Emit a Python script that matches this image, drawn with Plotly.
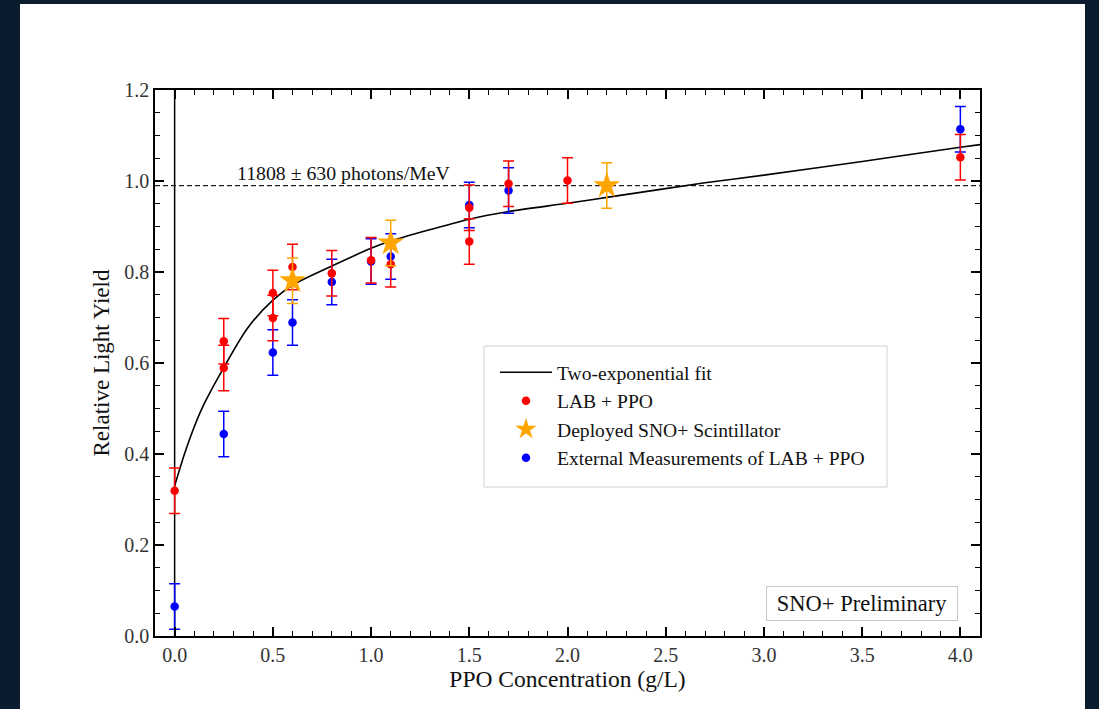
import plotly.graph_objects as go

# ---------------- data ----------------
lab_x = [0.0, 0.25, 0.25, 0.5, 0.5, 0.6, 0.8, 1.0, 1.1, 1.5, 1.5, 1.7, 2.0, 4.0]
lab_y = [0.319, 0.648, 0.589, 0.754, 0.699, 0.811, 0.797, 0.826, 0.817, 0.941, 0.867, 0.994, 1.001, 1.052]
lab_err = [0.05] * len(lab_x)

ext_x = [0.0, 0.25, 0.5, 0.6, 0.8, 1.0, 1.1, 1.5, 1.7, 4.0]
ext_y = [0.065, 0.444, 0.623, 0.689, 0.778, 0.823, 0.834, 0.947, 0.979, 1.114]
ext_err = [0.05] * len(ext_x)

dep_x = [0.6, 1.1, 2.2]
dep_y = [0.781, 0.864, 0.990]
dep_err = [0.05] * len(dep_x)

fit_x = [0.0, 0.05, 0.1, 0.15, 0.25, 0.37, 0.5, 0.6, 0.8, 1.0, 1.1, 1.5, 1.7, 2.0, 2.2, 2.7, 3.0, 3.5, 4.0, 4.1]
fit_y = [0.33, 0.40, 0.46, 0.51, 0.59, 0.676, 0.738, 0.771, 0.813, 0.852, 0.868, 0.916, 0.933, 0.951, 0.964, 0.996, 1.013, 1.043, 1.074, 1.080]

ref_level = 0.99
ref_label = "11808 ± 630 photons/MeV"
x_ticks = [0.0, 0.5, 1.0, 1.5, 2.0, 2.5, 3.0, 3.5, 4.0]

SERIF = "Liberation Serif, Times New Roman, serif"

fig = go.Figure()

fig.add_trace(go.Scatter(
    x=fit_x, y=fit_y, mode="lines", name="Two-exponential fit",
    line=dict(color="black", width=1.6, shape="spline", smoothing=0.8),
    legendrank=1, legendgroup="a"))

fig.add_trace(go.Scatter(
    x=ext_x, y=ext_y, mode="markers", name="External Measurements of LAB + PPO",
    marker=dict(color="#0000ff", size=8.5),
    error_y=dict(type="data", array=ext_err, color="#0000ff", thickness=1.5, width=5.5),
    legendrank=4, legendgroup="d"))

fig.add_trace(go.Scatter(
    x=lab_x, y=lab_y, mode="markers", name="LAB + PPO",
    marker=dict(color="#ff0000", size=8.5),
    error_y=dict(type="data", array=lab_err, color="#ff0000", thickness=1.5, width=5.5),
    legendrank=2, legendgroup="b"))

fig.add_trace(go.Scatter(
    x=dep_x, y=dep_y, mode="markers", name="Deployed SNO+ Scintillator",
    marker=dict(color="#ffa500", size=20, symbol="star"),
    error_y=dict(type="data", array=dep_err, color="#ffa500", thickness=1.5, width=5.5),
    legendrank=3, legendgroup="c"))

# plot-area pixel geometry
L, R, T, B = 155, 119, 90, 73
W, H = 1099, 709
pw, ph = W - L - R, H - T - B


def px_x(p):
    return (p - L) / pw


def px_y(p):
    return (H - B - p) / ph


shapes = [
    # white panel over dark background
    dict(type="rect", xref="paper", yref="paper", x0=px_x(20), x1=px_x(1085),
         y0=px_y(712), y1=px_y(4), fillcolor="white", line=dict(width=0), layer="below"),
    # vertical line at x = 0
    dict(type="line", xref="x", yref="paper", x0=0, x1=0, y0=0, y1=1,
         line=dict(color="black", width=1.5), layer="below"),
    # dashed reference level
    dict(type="line", xref="paper", yref="y", x0=0, x1=1, y0=ref_level, y1=ref_level,
         line=dict(color="#222", width=1.3, dash="5px,3px"), layer="below"),
    # legend box
    dict(type="rect", xref="paper", yref="paper", x0=px_x(484), x1=px_x(887),
         y0=px_y(487), y1=px_y(346), fillcolor="white",
         line=dict(color="#d0d0d0", width=1), layer="above"),
]

annotations = [
    dict(x=0.86, y=ref_level, xref="x", yref="y", text=ref_label, showarrow=False,
         xanchor="center", yanchor="bottom", yshift=0,
         font=dict(family=SERIF, size=19.8, color="#111")),
    dict(x=px_x(862), y=px_y(603), xref="paper", yref="paper", text="SNO+ Preliminary",
         xanchor="center", yanchor="middle",
         showarrow=False, font=dict(family=SERIF, size=22.5, color="#111"),
         bgcolor="white", bordercolor="#c8c8c8", borderwidth=1, borderpad=4,
         width=182, height=25),
]

axis_common = dict(
    showline=True, linecolor="black", linewidth=1.5, mirror="ticks",
    ticks="inside", ticklen=9, tickwidth=1.5, tickcolor="black",
    showgrid=False, zeroline=False,
    tickfont=dict(family=SERIF, size=20, color="#333"),
)

fig.update_layout(
    width=W, height=H,
    margin=dict(l=L, r=R, t=T, b=B, pad=0),
    paper_bgcolor="#0c1c2f",
    plot_bgcolor="white",
    shapes=shapes,
    annotations=annotations,
    showlegend=True,
    legend=dict(
        x=px_x(495), y=px_y(353), xanchor="left", yanchor="top",
        bgcolor="rgba(0,0,0,0)", borderwidth=0,
        font=dict(family=SERIF, size=19.6, color="#111"),
        tracegroupgap=0, itemwidth=52,
    ),
    xaxis=dict(
        range=[-0.1, 4.1], tickvals=x_ticks, ticktext=[f"{v:.1f}" for v in x_ticks],
        minor=dict(dtick=0.1, tick0=0, ticks="inside", ticklen=5, tickwidth=1.2, tickcolor="black"),
        title=dict(text="PPO Concentration (g/L)", standoff=6,
                   font=dict(family=SERIF, size=23.5, color="#111")),
        **axis_common),
    yaxis=dict(
        range=[0, 1.2], dtick=0.2, tick0=0, tickformat=".1f",
        minor=dict(dtick=0.05, tick0=0, ticks="inside", ticklen=5, tickwidth=1.2, tickcolor="black"),
        title=dict(text="Relative Light Yield", standoff=8,
                   font=dict(family=SERIF, size=23, color="#111")),
        **axis_common),
)

fig.write_html("out.html", config={"displayModeBar": False},
               post_script="document.body.style.margin='0px';document.body.style.overflow='hidden';")
